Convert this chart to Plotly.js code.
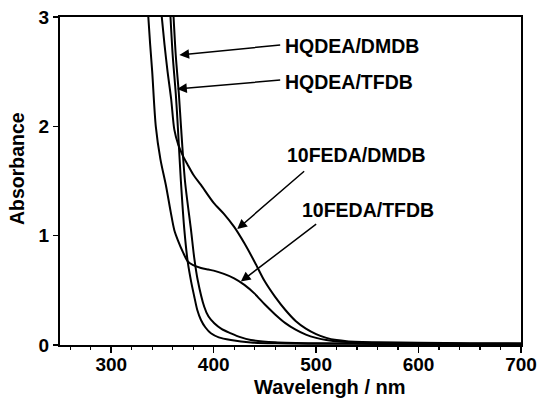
<!DOCTYPE html>
<html>
<head>
<meta charset="utf-8">
<script src="https://cdn.plot.ly/plotly-3.0.1.min.js"></script>
<style>html,body{margin:0;padding:0;background:#fff;}#chart{width:539px;height:398px;}</style>
</head>
<body>
<div id="chart"></div>
<script>
// 10FEDA/TFDB
const fedaTfdbX = [335.5, 338, 340, 343.5, 348, 353.6, 358, 361.6, 365, 370, 374.7, 380, 387.6, 395, 400, 410, 420, 430, 440, 450, 460, 470, 480, 490, 500, 510, 525, 550, 600, 650, 700];
const fedaTfdbY = [3.1, 2.75, 2.5, 2.0, 1.7, 1.45, 1.22, 1.05, 0.96, 0.85, 0.765, 0.73, 0.705, 0.69, 0.68, 0.65, 0.61, 0.55, 0.47, 0.37, 0.28, 0.2, 0.14, 0.095, 0.065, 0.045, 0.03, 0.02, 0.015, 0.012, 0.01];
// 10FEDA/DMDB
const fedaDmdbX = [348.3, 352, 355, 358.5, 361.6, 365.5, 370, 374.7, 380, 387.6, 400, 410, 420, 430, 440, 450, 460, 470, 480, 490, 500, 510, 520, 530, 560, 600, 650, 700];
const fedaDmdbY = [3.1, 2.75, 2.5, 2.25, 1.97, 1.83, 1.73, 1.647, 1.56, 1.464, 1.30, 1.20, 1.08, 0.93, 0.76, 0.58, 0.44, 0.32, 0.22, 0.15, 0.10, 0.065, 0.045, 0.035, 0.025, 0.02, 0.017, 0.015];
// HQDEA/TFDB
const hqTfdbX = [357.3, 360, 363, 365, 368, 371.4, 374.7, 378, 381.1, 384, 387.6, 392, 397.3, 405, 416.8, 436.3, 460, 500, 560, 700];
const hqTfdbY = [3.1, 2.65, 2.3, 2.0, 1.5, 1.05, 0.76, 0.58, 0.442, 0.32, 0.229, 0.16, 0.107, 0.07, 0.046, 0.023, 0.015, 0.012, 0.01, 0.008];
// HQDEA/DMDB
const hqDmdbX = [360.3, 363, 366, 368.1, 372, 377.9, 381, 384.4, 390.8, 395, 400.6, 408, 416.8, 426, 436.3, 460, 500, 560, 700];
const hqDmdbY = [3.1, 2.65, 2.3, 2.0, 1.5, 1.05, 0.8, 0.595, 0.35, 0.26, 0.199, 0.145, 0.107, 0.072, 0.046, 0.025, 0.015, 0.012, 0.01];

const xTickVals = [300, 400, 500, 600, 700];
const yTickVals = [0, 1, 2, 3];

const labels = ["HQDEA/DMDB", "HQDEA/TFDB", "10FEDA/DMDB", "10FEDA/TFDB"];
const labelX = [468.0, 468.0, 470.0, 484.5];
const labelY = [2.735, 2.41, 1.738, 1.235];
const arrowTipX = [366.5, 364.3, 423.0, 426.5];
const arrowTipY = [2.653, 2.342, 1.06, 0.58];
const arrowTailX = [466.4, 466.4, 489.8, 501.5];
const arrowTailY = [2.745, 2.424, 1.601, 1.116];

const lineStyle = {color: '#000', width: 2};
const font = 'Liberation Sans, Arial, sans-serif';

const traces = [
  {x: fedaTfdbX, y: fedaTfdbY, name: labels[3]},
  {x: fedaDmdbX, y: fedaDmdbY, name: labels[2]},
  {x: hqTfdbX, y: hqTfdbY, name: labels[1]},
  {x: hqDmdbX, y: hqDmdbY, name: labels[0]}
].map(t => Object.assign(t, {type: 'scatter', mode: 'lines', line: Object.assign({shape: 'spline', smoothing: 0.8}, lineStyle), hoverinfo: 'skip'}));

const annotations = [];
for (let i = 0; i < labels.length; i++) {
  annotations.push({
    x: arrowTipX[i], y: arrowTipY[i], xref: 'x', yref: 'y',
    ax: arrowTailX[i], ay: arrowTailY[i], axref: 'x', ayref: 'y',
    text: '', showarrow: true, arrowhead: 2, arrowsize: 1.3, arrowwidth: 1.5,
    arrowcolor: '#000', standoff: 0, startstandoff: 0
  });
  annotations.push({
    x: labelX[i], y: labelY[i], xref: 'x', yref: 'y',
    text: '<b>' + labels[i] + '</b>', showarrow: false,
    xanchor: 'left', yanchor: 'middle',
    font: {family: font, size: 19.5, color: '#000'}
  });
}
annotations.push({
  x: 0.586, y: -0.127, xref: 'paper', yref: 'paper',
  text: '<b>Wavelengh / nm</b>', showarrow: false, xanchor: 'center', yanchor: 'middle',
  font: {family: font, size: 20, color: '#000'}
});
annotations.push({
  x: -0.093, y: 0.537, xref: 'paper', yref: 'paper',
  text: '<b>Absorbance</b>', showarrow: false, textangle: -90, xanchor: 'center', yanchor: 'middle',
  font: {family: font, size: 19.5, color: '#000'}
});

const layout = {
  width: 539, height: 398,
  margin: {l: 60, r: 18, t: 17, b: 53},
  paper_bgcolor: '#fff', plot_bgcolor: '#fff',
  showlegend: false,
  font: {family: font, color: '#000'},
  xaxis: {
    range: [250, 700], tickvals: xTickVals, ticktext: xTickVals.map(v => '<b>' + v + '</b>'),
    ticks: 'outside', ticklen: 6, tickwidth: 1.5, tickcolor: '#000',
    ticklabelstandoff: -5,
    minor: {dtick: 20, tick0: 0, ticks: 'outside', ticklen: 3, tickwidth: 1.2, tickcolor: '#000'},
    showline: true, linecolor: '#000', linewidth: 2, mirror: true,
    showgrid: false, zeroline: false,
    tickfont: {family: font, size: 19, color: '#000'}
  },
  yaxis: {
    range: [0, 3], tickvals: yTickVals, ticktext: yTickVals.map(v => '<b>' + v + '</b>'),
    ticks: 'outside', ticklen: 5, tickwidth: 1.5, tickcolor: '#000',
    showline: true, linecolor: '#000', linewidth: 2, mirror: true,
    showgrid: false, zeroline: false,
    tickfont: {family: font, size: 19, color: '#000'}
  },
  annotations: annotations
};

Plotly.newPlot('chart', traces, layout, {displayModeBar: false, staticPlot: true});
</script>
</body>
</html>
